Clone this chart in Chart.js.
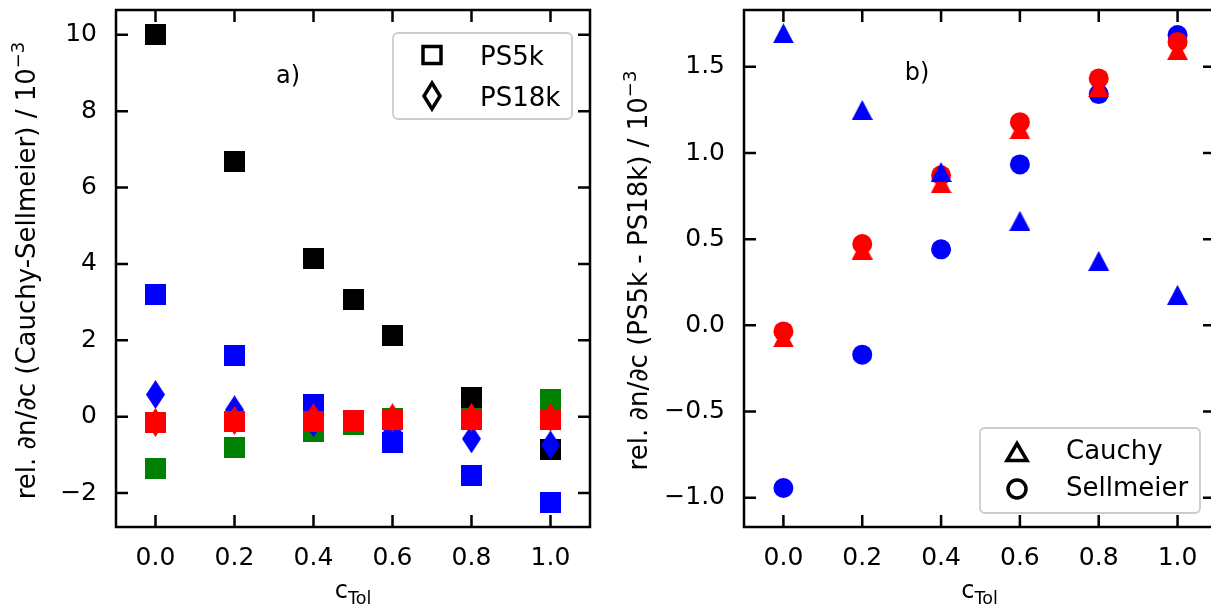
<!DOCTYPE html>
<html>
<head>
<meta charset="utf-8">
<script src="https://cdn.jsdelivr.net/npm/chart.js@4.4.0/dist/chart.umd.min.js"></script>
<style>
  body { margin: 0; background: #fff; width: 1211px; height: 610px; overflow: hidden; position: relative; }
  .panel { position: absolute; top: 0; width: 620px; height: 610px; }
  #panelA { left: 0; }
  #panelB { left: 620px; }
</style>
</head>
<body>
<div class="panel" id="panelA"><canvas id="chartA"></canvas></div>
<div class="panel" id="panelB"><canvas id="chartB"></canvas></div>
<script>
// x values (toluene fraction)
const cTol = [0.0, 0.2, 0.4, 0.5, 0.6, 0.8, 1.0];
const cTolB = [0.0, 0.2, 0.4, 0.6, 0.8, 1.0];
const xTicks = [0.0, 0.2, 0.4, 0.6, 0.8, 1.0];
const yTicksA = [-2, 0, 2, 4, 6, 8, 10];
const yTicksB = [-1.0, -0.5, 0.0, 0.5, 1.0, 1.5];

// panel a) squares = PS5k, diamonds = PS18k (null = no point)
const ps5kBlack = [10.0, 6.68, 4.13, 3.07, 2.12, 0.49, -0.85];
const ps5kGreen = [-1.35, -0.81, -0.38, -0.21, -0.04, -0.05, 0.45];
const ps5kBlue = [3.21, 1.60, 0.33, null, -0.69, -1.55, -2.26];
const ps5kRed = [-0.15, -0.13, -0.12, -0.10, -0.08, -0.07, -0.07];
const ps18kBlue = [0.58, 0.18, -0.16, null, -0.40, -0.58, -0.74];
const ps18kRed = [-0.15, -0.10, -0.03, null, -0.03, -0.02, -0.02];

// panel b) triangles = Cauchy, circles = Sellmeier
const cauchyBlue = [1.695, 1.25, 0.89, 0.607, 0.374, 0.177];
const cauchyRed = [-0.07, 0.44, 0.824, 1.138, 1.383, 1.597];
const sellmeierBlue = [-0.944, -0.17, 0.441, 0.934, 1.342, 1.685];
const sellmeierRed = [-0.035, 0.472, 0.871, 1.179, 1.433, 1.645];

const BLUE = '#0000ff', RED = '#ff0000', GREEN = '#008000', BLACK = '#000000';
const FONT = "'DejaVu Sans', sans-serif";

Chart.defaults.font.family = FONT;
Chart.defaults.color = '#000';

function marker(shape, color, w, h) {
  const c = document.createElement('canvas');
  c.width = w; c.height = h;
  const g = c.getContext('2d');
  g.fillStyle = color;
  g.beginPath();
  if (shape === 'diamond') {
    g.moveTo(w / 2, 0); g.lineTo(w, h / 2); g.lineTo(w / 2, h); g.lineTo(0, h / 2);
  } else if (shape === 'triangle') {
    g.moveTo(w / 2, 0); g.lineTo(w, h); g.lineTo(0, h);
  } else {
    g.rect(0, 0, w, h);
  }
  g.closePath();
  g.fill();
  return c;
}

function points(xs, ys) {
  return xs.map((x, i) => ({ x: x, y: ys[i] })).filter(p => p.y !== null);
}

function set(ys, xs, style, color, order) {
  const ds = { data: points(xs, ys), order: order, pointBorderWidth: 0, pointHoverRadius: 10, showLine: false };
  if (style === 'circle') {
    ds.pointStyle = 'circle';
    ds.pointRadius = 10;
    ds.backgroundColor = color;
    ds.borderColor = color;
  } else {
    ds.pointStyle = style;
    ds.pointRadius = 10;
  }
  return ds;
}

const minus = s => String(s).replace('-', '\u2212');

// draw a row of text pieces (with sub/superscripts) centred at cx
function richText(ctx, parts, cx, cy) {
  let total = 0;
  parts.forEach(p => { ctx.font = p.size + 'px ' + FONT; p.w = ctx.measureText(p.text).width; total += p.w; });
  let x = cx - total / 2;
  parts.forEach(p => {
    ctx.font = p.size + 'px ' + FONT;
    ctx.fillText(p.text, x, cy + (p.dy || 0));
    x += p.w;
  });
}

const frame = {
  id: 'frame',
  afterDraw(chart, args, o) {
    const { ctx, chartArea: a, scales: { x, y } } = chart;
    ctx.save();
    ctx.strokeStyle = '#000';
    ctx.lineWidth = 2.5;
    ctx.lineCap = 'butt';
    const len = 12;
    ctx.beginPath();
    x.ticks.forEach(t => {
      const px = x.getPixelForValue(t.value);
      ctx.moveTo(px, a.bottom); ctx.lineTo(px, a.bottom - len);
      ctx.moveTo(px, a.top); ctx.lineTo(px, a.top + len);
    });
    y.ticks.forEach(t => {
      const py = y.getPixelForValue(t.value);
      ctx.moveTo(a.left, py); ctx.lineTo(a.left + len, py);
      ctx.moveTo(a.right, py); ctx.lineTo(a.right - len, py);
    });
    ctx.stroke();
    ctx.strokeRect(a.left, a.top, a.right - a.left, a.bottom - a.top);

    // legend
    const L = o.legend;
    ctx.fillStyle = 'rgba(255,255,255,0.8)';
    ctx.strokeStyle = '#cccccc';
    ctx.lineWidth = 1.8;
    ctx.beginPath();
    ctx.roundRect(L.x, L.y, L.w, L.h, 5);
    ctx.fill();
    ctx.stroke();
    ctx.strokeStyle = '#000';
    ctx.fillStyle = '#000';
    ctx.lineWidth = 3.5;
    ctx.lineJoin = 'miter';
    L.items.forEach((it, i) => {
      const mx = L.mx, my = L.my + i * L.dy;
      ctx.beginPath();
      if (it.shape === 'square') ctx.rect(mx - 9, my - 8.5, 18, 17);
      else if (it.shape === 'diamond') { ctx.moveTo(mx, my - 13); ctx.lineTo(mx + 8, my); ctx.lineTo(mx, my + 13); ctx.lineTo(mx - 8, my); ctx.closePath(); }
      else if (it.shape === 'triangle') { ctx.moveTo(mx, my - 8.5); ctx.lineTo(mx + 10, my + 8.5); ctx.lineTo(mx - 10, my + 8.5); ctx.closePath(); }
      else ctx.arc(mx, my, 9, 0, Math.PI * 2);
      ctx.stroke();
      ctx.font = '26px ' + FONT;
      ctx.textBaseline = 'alphabetic';
      ctx.fillText(it.label, L.tx, L.ty + i * L.dy);
    });

    // panel tag
    ctx.font = '24px ' + FONT;
    ctx.textAlign = 'center';
    ctx.textBaseline = 'middle';
    ctx.fillText(o.tag.text, o.tag.x, o.tag.y);

    // axis titles
    ctx.textAlign = 'left';
    ctx.textBaseline = 'alphabetic';
    richText(ctx, [{ text: 'c', size: 24 }, { text: 'Tol', size: 17.5, dy: 6 }], (a.left + a.right) / 2, 598);
    ctx.save();
    ctx.translate(o.ylabelX, (a.top + a.bottom) / 2 + 2);
    ctx.rotate(-Math.PI / 2);
    richText(ctx, [{ text: o.ylabel, size: 26 }, { text: '\u22123', size: 18, dy: -11 }], 0, 0);
    ctx.restore();
    ctx.restore();
  }
};

function fixedTicks(list) {
  return scale => { scale.ticks = list.map(v => ({ value: v })); };
}

function makeOptions(xMax, yMin, yMax, yList, yFmt, yWidth, padRight, frameOpts) {
  return {
    responsive: true,
    maintainAspectRatio: false,
    animation: false,
    layout: { padding: { top: 9, right: padRight, left: 0, bottom: 0 } },
    plugins: { legend: { display: false }, tooltip: { enabled: false }, frame: frameOpts },
    scales: {
      x: {
        type: 'linear', min: -0.1, max: xMax,
        afterBuildTicks: fixedTicks(xTicks),
        afterFit: s => { s.height = 83; s.paddingLeft = 0; s.paddingRight = 0; },
        grid: { display: false, drawTicks: false },
        border: { display: false },
        ticks: { padding: 16, font: { size: 25 }, color: '#000', maxRotation: 0, callback: v => v.toFixed(1) }
      },
      y: {
        type: 'linear', min: yMin, max: yMax,
        afterBuildTicks: fixedTicks(yList),
        afterFit: s => { s.width = yWidth; s.paddingTop = 0; s.paddingBottom = 0; },
        grid: { display: false, drawTicks: false },
        border: { display: false },
        ticks: { padding: 19, font: { size: 25 }, color: '#000', callback: yFmt }
      }
    }
  };
}

const sq = c => marker('square', c, 21, 21);
const dm = c => marker('diamond', c, 19, 29);
const tr = c => marker('triangle', c, 21, 20);

new Chart(document.getElementById('chartA'), {
  type: 'scatter',
  data: {
    datasets: [
      set(ps18kRed, cTol, dm(RED), RED, 0),
      set(ps5kRed, cTol, sq(RED), RED, 1),
      set(ps18kBlue, cTol, dm(BLUE), BLUE, 2),
      set(ps5kBlue, cTol, sq(BLUE), BLUE, 3),
      set(ps5kGreen, cTol, sq(GREEN), GREEN, 4),
      set(ps5kBlack, cTol, sq(BLACK), BLACK, 5)
    ]
  },
  options: makeOptions(1.1, -2.89, 10.65, yTicksA, v => minus(v), 116, 30, {
    legend: { x: 393, y: 33, w: 179, h: 86, mx: 432, my: 55, dy: 41, tx: 480, ty: 65,
      items: [{ shape: 'square', label: 'PS5k' }, { shape: 'diamond', label: 'PS18k' }] },
    tag: { text: 'a)', x: 288, y: 77 },
    ylabel: 'rel. \u2202n/\u2202c (Cauchy-Sellmeier) / 10',
    ylabelX: 35
  }),
  plugins: [frame]
});

new Chart(document.getElementById('chartB'), {
  type: 'scatter',
  data: {
    datasets: [
      set(cauchyBlue, cTolB, tr(BLUE), BLUE, 0),
      set(sellmeierRed, cTolB, 'circle', RED, 1),
      set(cauchyRed, cTolB, tr(RED), RED, 2),
      set(sellmeierBlue, cTolB, 'circle', BLUE, 3)
    ]
  },
  options: makeOptions(1.095, -1.17, 1.83, yTicksB, v => minus(v.toFixed(1)), 124, 25, {
    legend: { x: 360, y: 428, w: 220, h: 85, mx: 397, my: 452, dy: 37, tx: 446, ty: 459,
      items: [{ shape: 'triangle', label: 'Cauchy' }, { shape: 'circle', label: 'Sellmeier' }] },
    tag: { text: 'b)', x: 297, y: 74 },
    ylabel: 'rel. \u2202n/\u2202c (PS5k - PS18k) / 10',
    ylabelX: 27
  }),
  plugins: [frame]
});
</script>
</body>
</html>
